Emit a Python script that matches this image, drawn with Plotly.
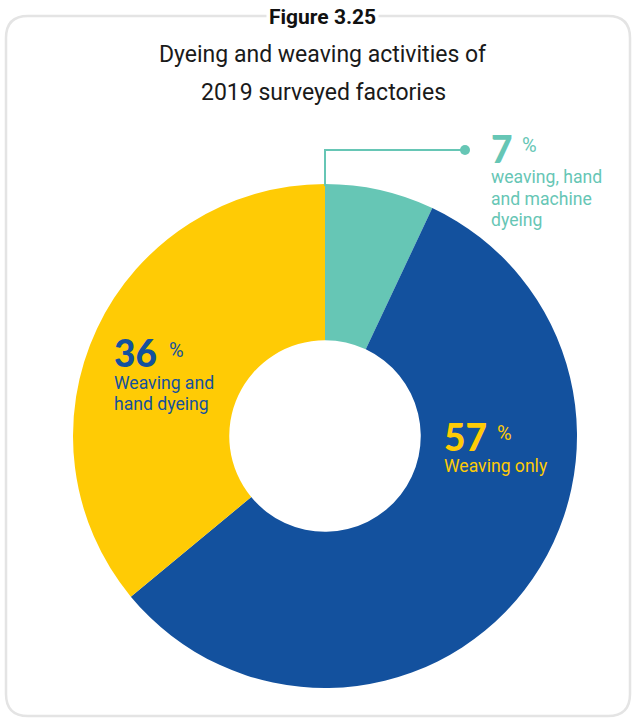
import plotly.graph_objects as go

# Share of surveyed factories by activity
labels = ["weaving, hand and machine dyeing", "Weaving only", "Weaving and hand dyeing"]
values = [7, 57, 36]
colors = ["#66C6B5", "#13519E", "#FFCB05"]

W, H = 635, 719


def px(x):
    return x / W


def py(y):
    return 1 - y / H


fig = go.Figure()

cx, cy, r = 325, 436, 252
fig.add_trace(go.Pie(
    labels=labels,
    values=values,
    marker=dict(colors=colors, line=dict(width=0)),
    hole=0.38,
    sort=False,
    direction="clockwise",
    rotation=0,
    textinfo="none",
    hoverinfo="label+percent",
    showlegend=False,
    domain=dict(x=[px(cx - r), px(cx + r)], y=[py(cy + r), py(cy - r)]),
))


def rounded_rect(x0, y0, x1, y1, rad):
    rx, ry = rad / W, rad / H
    X0, X1 = px(x0), px(x1)
    Y0, Y1 = py(y0), py(y1)  # Y0 top, Y1 bottom
    return (f"M {X0 + rx},{Y0} L {X1 - rx},{Y0} Q {X1},{Y0} {X1},{Y0 - ry} "
            f"L {X1},{Y1 + ry} Q {X1},{Y1} {X1 - rx},{Y1} "
            f"L {X0 + rx},{Y1} Q {X0},{Y1} {X0},{Y1 + ry} "
            f"L {X0},{Y0 - ry} Q {X0},{Y0} {X0 + rx},{Y0} Z")


shapes = [
    dict(type="path", xref="paper", yref="paper",
         path=rounded_rect(6, 16, 630, 716, 22),
         line=dict(color="#E4E4E4", width=2.5), layer="below"),
    # leader line to the small slice
    dict(type="path", xref="paper", yref="paper",
         path=f"M {px(325)},{py(186)} L {px(325)},{py(150)} L {px(465)},{py(150)}",
         line=dict(color=colors[0], width=2)),
    dict(type="circle", xref="paper", yref="paper",
         x0=px(460), x1=px(470), y0=py(155), y1=py(145),
         fillcolor=colors[0], line=dict(width=0)),
]

FONT = "Roboto"
annotations = [
    dict(text="<b>Figure 3.25</b>", x=px(322), y=py(17), xanchor="center", yanchor="middle",
         font=dict(family=FONT, size=21, color="#111111"), bgcolor="white",
         borderpad=2, xref="paper", yref="paper", showarrow=False),
    dict(text="Dyeing and weaving activities of", x=px(323), y=py(55),
         xanchor="center", yanchor="middle",
         font=dict(family=FONT, size=23, color="#1a1a1a"),
         xref="paper", yref="paper", showarrow=False),
    dict(text="2019 surveyed factories", x=px(323), y=py(92),
         xanchor="center", yanchor="middle",
         font=dict(family=FONT, size=23, color="#1a1a1a"),
         xref="paper", yref="paper", showarrow=False),
]

label_specs = [
    # value index, number position, percent-sign x, description lines, text color
    (0, (489, 148), 520, ["weaving, hand", "and machine", "dyeing"], colors[0]),
    (2, (112, 353), 167, ["Weaving and", "hand dyeing"], colors[1]),
    (1, (442, 436), 495, ["Weaving only"], colors[2]),
]

for idx, (x, y), pct_x, lines, col in label_specs:
    annotations.append(dict(
        text=f"{values[idx]}",
        x=px(x), y=py(y), xanchor="left", yanchor="middle",
        font=dict(family="Lato", size=37, color=col, weight=900),
        xref="paper", yref="paper", showarrow=False))
    annotations.append(dict(
        text="%", x=px(pct_x), y=py(y - 3), xanchor="left", yanchor="middle",
        font=dict(family=FONT, size=20, color=col),
        xref="paper", yref="paper", showarrow=False))
    for k, line in enumerate(lines):
        annotations.append(dict(
            text=line, x=px(x), y=py(y + 17.5 + 21.3 * k), xanchor="left", yanchor="top",
            font=dict(family=FONT, size=17.6, color=col),
            xref="paper", yref="paper", showarrow=False))

fig.update_layout(
    width=W, height=H,
    margin=dict(l=0, r=0, t=0, b=0),
    paper_bgcolor="white", plot_bgcolor="white",
    shapes=shapes, annotations=annotations,
)

fig.write_html("out.html")
